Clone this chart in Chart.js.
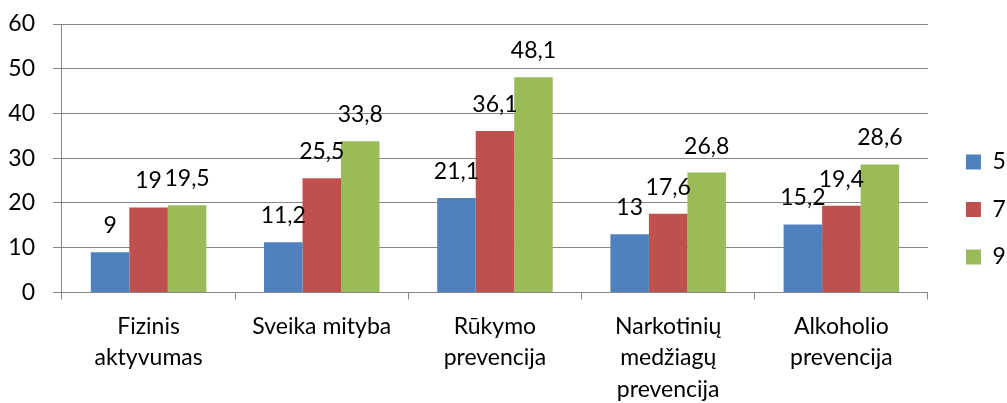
<!DOCTYPE html>
<html>
<head>
<meta charset="utf-8">
<script src="https://cdn.jsdelivr.net/npm/chart.js@4/dist/chart.umd.min.js"></script>
<style>
html,body{margin:0;padding:0;background:#fff;}
canvas{display:block;}
</style>
</head>
<body>
<canvas id="c" width="1007" height="403"></canvas>
<script>
const categories = [
  ["Fizinis", "aktyvumas"],
  ["Sveika mityba"],
  ["Rūkymo", "prevencija"],
  ["Narkotinių", "medžiagų", "prevencija"],
  ["Alkoholio", "prevencija"]
];
const seriesNames = ["5", "7", "9"];
const values5 = [9, 11.2, 21.1, 13, 15.2];
const values7 = [19, 25.5, 36.1, 17.6, 19.4];
const values9 = [19.5, 33.8, 48.1, 26.8, 28.6];
const yTicks = [0, 10, 20, 30, 40, 50, 60];

const colors = ["#4F81BD", "#C0504D", "#9BBB59"];
const FONT = "Lato";
const FS = 23;
const gridColor = "#868686";

const labelPlugin = {
  id: "valueLabels",
  afterDatasetsDraw(chart) {
    const ctx = chart.ctx;
    ctx.save();
    ctx.font = FS + "px " + FONT;
    ctx.fillStyle = "#000";
    ctx.textAlign = "center";
    ctx.textBaseline = "alphabetic";
    chart.data.datasets.forEach((ds, i) => {
      const meta = chart.getDatasetMeta(i);
      meta.data.forEach((el, j) => {
        const v = ds.data[j];
        ctx.fillText(String(v).replace(".", ","), el.x, el.y - 19);
      });
    });
    ctx.restore();
  }
};

const legendShift = {
  id: "legendShift",
  afterLayout(chart) {
    const lg = chart.legend;
    if (!lg) return;
    const dx = 13.5, dy = -10.5;
    lg.left += dx; lg.right += dx;
    lg.top += dy; lg.bottom += dy;
  }
};

new Chart(document.getElementById("c"), {
  type: "bar",
  data: {
    labels: categories,
    datasets: [
      { label: seriesNames[0], data: values5, backgroundColor: colors[0] },
      { label: seriesNames[1], data: values7, backgroundColor: colors[1] },
      { label: seriesNames[2], data: values9, backgroundColor: colors[2] }
    ]
  },
  options: {
    responsive: false,
    devicePixelRatio: 1,
    animation: false,
    layout: { padding: { left: -9.7, top: 24, right: 4.7, bottom: -13 } },
    datasets: { bar: { categoryPercentage: 0.667, barPercentage: 1.0 } },
    plugins: {
      legend: {
        position: "right",
        labels: {
          boxWidth: 15,
          boxHeight: 15,
          padding: 24.5,
          color: "#000",
          font: { family: FONT, size: FS }
        }
      },
      tooltip: { enabled: false }
    },
    scales: {
      x: {
        grid: {
          drawOnChartArea: false,
          drawTicks: true,
          tickLength: 7,
          color: gridColor,
          offset: true
        },
        border: { color: gridColor, width: 1 },
        ticks: {
          color: "#000",
          font: { family: FONT, size: FS, lineHeight: 1.37 },
          maxRotation: 0,
          minRotation: 0,
          autoSkip: false,
          padding: 11
        }
      },
      y: {
        min: 0,
        max: 60,
        afterBuildTicks(scale) {
          scale.ticks = yTicks.map(v => ({ value: v }));
        },
        grid: {
          color: gridColor,
          tickLength: 9,
          lineWidth: 1
        },
        border: { color: gridColor, width: 1 },
        ticks: {
          color: "#000",
          font: { family: FONT, size: FS, lineHeight: 0.1 },
          padding: 18
        }
      }
    }
  },
  plugins: [labelPlugin, legendShift]
});
</script>
</body>
</html>
